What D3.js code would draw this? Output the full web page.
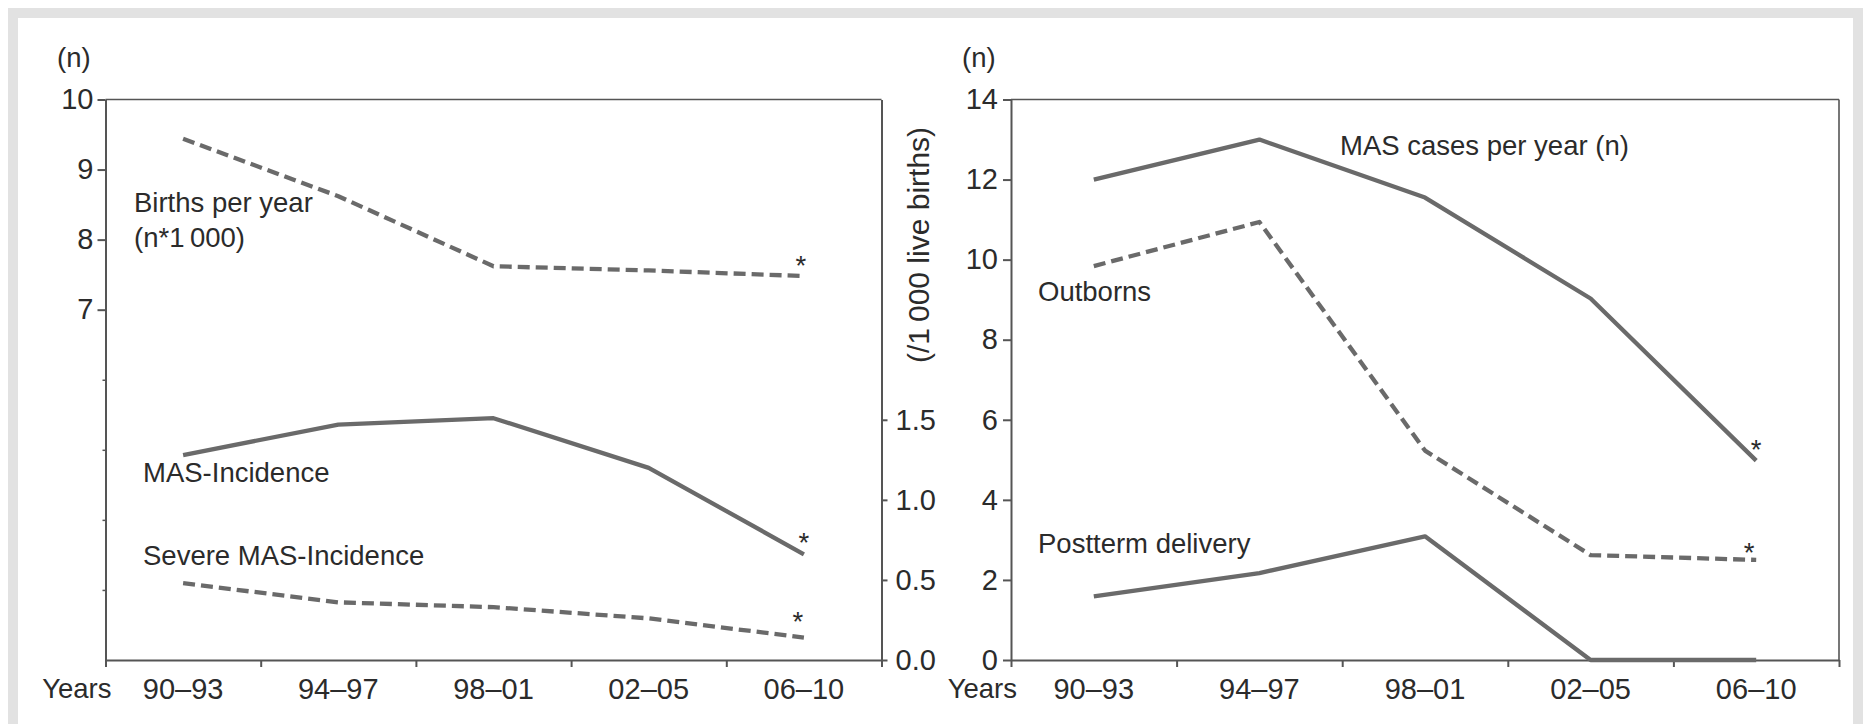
<!DOCTYPE html>
<html>
<head>
<meta charset="utf-8">
<script src="https://cdn.jsdelivr.net/npm/d3@7"></script>
<style>
  body { margin: 0; background: #fff; }
  svg { display: block; }
</style>
</head>
<body>
<svg id="chart" width="1863" height="724"></svg>
<script>
// data
const periods = ['90–93', '94–97', '98–01', '02–05', '06–10'];

// left panel
const birthsPerYear = [9.44, 8.62, 7.62, 7.56, 7.48];      // n*1000, left axis
const masIncidence = [1.28, 1.47, 1.51, 1.20, 0.66];        // /1000 live births, right axis
const severeMasIncidence = [0.48, 0.36, 0.33, 0.26, 0.14];
const birthsTicks = [7, 8, 9, 10];
const birthsMinorTicks = [3, 4, 5, 6];
const incidenceTicks = [0, 0.5, 1.0, 1.5];

// right panel
const masCases = [12, 13, 11.55, 9.03, 4.98];
const outborns = [9.84, 10.94, 5.23, 2.62, 2.5];
const postterm = [1.59, 2.17, 3.09, 0, 0];
const casesTicks = [0, 2, 4, 6, 8, 10, 12, 14];

const font = '"Liberation Sans", Arial, sans-serif';
const fontSize = 27.5;
const tickFontSize = 29;
const textColor = '#2b2b2b';
const axisColor = '#555';
const lineColor = '#6a6a6a';
const dash = '12,6';

const svg = d3.select('#chart');

// light grey frame round the figure
svg.append('rect')
   .attr('x', 13).attr('y', 13)
   .attr('width', 1845).attr('height', 800)
   .attr('fill', 'none')
   .attr('stroke', '#e2e2e2')
   .attr('stroke-width', 10);

const plotTop = 99.5, plotBottom = 660;

const styleAxis = (g, width) => {
  g.attr('font-family', font).attr('font-size', tickFontSize);
  g.selectAll('.domain, line').attr('stroke', axisColor).attr('stroke-width', width || 2);
  g.selectAll('text').attr('fill', textColor);
};

const addText = (x, y, txt, anchor) =>
  svg.append('text')
     .attr('x', x).attr('y', y)
     .attr('font-family', font).attr('font-size', fontSize)
     .attr('fill', textColor)
     .attr('text-anchor', anchor || 'start')
     .text(txt);

const drawXAxis = (x0, x1) => {
  const xBand = d3.scaleBand().domain(periods).range([x0, x1]);
  const xEdge = d3.scaleLinear().domain([0, periods.length]).range([x0, x1]);

  const ticks = svg.append('g')
     .attr('transform', `translate(0,${plotBottom})`)
     .call(d3.axisBottom(xEdge).tickValues(d3.range(periods.length + 1)).tickFormat('').tickSize(7).tickSizeOuter(0));
  styleAxis(ticks);

  const labels = svg.append('g')
     .attr('transform', `translate(0,${plotBottom})`)
     .call(d3.axisBottom(xBand).tickSize(0).tickPadding(18));
  labels.select('.domain').remove();
  styleAxis(labels);

  addText(x0 + 6, 698, 'Years', 'end');
  return xBand;
};

const drawSeries = (xBand, yScale, values, dashed) => {
  const line = d3.line()
                 .x((d, i) => xBand(periods[i]) + xBand.bandwidth() / 2)
                 .y(d => yScale(d));
  svg.append('path')
     .datum(values)
     .attr('fill', 'none')
     .attr('stroke', lineColor)
     .attr('stroke-width', 4.3)
     .attr('stroke-linejoin', 'round')
     .attr('stroke-dasharray', dashed ? dash : null)
     .attr('d', line);
};

const addStar = (xBand, yScale, values, dx, dy) => {
  const i = values.length - 1;
  const cx = xBand(periods[i]) + xBand.bandwidth() / 2 + dx;
  const cy = yScale(values[i]) + dy;
  svg.append('text')
     .attr('x', cx).attr('y', cy + 15.5)
     .attr('font-family', font).attr('font-size', fontSize)
     .attr('fill', textColor)
     .attr('text-anchor', 'middle')
     .text('*');
};

// ---------- left panel ----------
{
  const x0 = 105.5, x1 = 881.5;
  const yBirths = d3.scaleLinear().domain([2, 10]).range([plotBottom, plotTop]);
  const yInc = d3.scaleLinear().domain([0, 3.5]).range([plotBottom, plotTop]);

  svg.append('line')
     .attr('x1', x0).attr('x2', x1).attr('y1', plotTop).attr('y2', plotTop)
     .attr('stroke', axisColor).attr('stroke-width', 1.6);

  const xBand = drawXAxis(x0, x1);

  const minor = svg.append('g')
     .attr('transform', `translate(${x0},0)`)
     .call(d3.axisLeft(yBirths).tickValues(birthsMinorTicks).tickFormat('').tickSize(3).tickSizeOuter(0));
  minor.select('.domain').remove();
  styleAxis(minor, 1.5);

  const yl = svg.append('g')
     .attr('transform', `translate(${x0},0)`)
     .call(d3.axisLeft(yBirths).tickValues(birthsTicks).tickSize(8).tickPadding(4).tickSizeOuter(0));
  styleAxis(yl);

  const yr = svg.append('g')
     .attr('transform', `translate(${x1},0)`)
     .call(d3.axisRight(yInc).tickValues(incidenceTicks).tickFormat(d3.format('.1f')).tickSize(6).tickPadding(8).tickSizeOuter(0));
  styleAxis(yr);

  addText(57, 67, '(n)');
  svg.append('text')
     .attr('transform', 'translate(918,245) rotate(-90)')
     .attr('dy', '0.35em')
     .attr('font-family', font).attr('font-size', 30)
     .attr('fill', textColor)
     .attr('text-anchor', 'middle')
     .text('(/1\u2009000 live births)');

  drawSeries(xBand, yBirths, birthsPerYear, true);
  drawSeries(xBand, yInc, masIncidence, false);
  drawSeries(xBand, yInc, severeMasIncidence, true);

  addText(134, 212, 'Births per year');
  addText(134, 247, '(n*1\u2009000)');
  addText(143, 482, 'MAS-Incidence');
  addText(143, 565, 'Severe MAS-Incidence');

  addStar(xBand, yBirths, birthsPerYear, -3, -17);
  addStar(xBand, yInc, masIncidence, 0, -18);
  addStar(xBand, yInc, severeMasIncidence, -6, -22);
}

// ---------- right panel ----------
{
  const x0 = 1011, x1 = 1839;
  const yCases = d3.scaleLinear().domain([0, 14]).range([plotBottom, plotTop]);

  svg.append('line')
     .attr('x1', x0).attr('x2', x1).attr('y1', plotTop).attr('y2', plotTop)
     .attr('stroke', axisColor).attr('stroke-width', 1.6);
  svg.append('line')
     .attr('x1', x1).attr('x2', x1).attr('y1', plotTop).attr('y2', plotBottom)
     .attr('stroke', axisColor).attr('stroke-width', 1.6);

  const xBand = drawXAxis(x0, x1);

  const yl = svg.append('g')
     .attr('transform', `translate(${x0},0)`)
     .call(d3.axisLeft(yCases).tickValues(casesTicks).tickSize(8).tickPadding(5).tickSizeOuter(0));
  styleAxis(yl);

  addText(962, 67, '(n)');

  drawSeries(xBand, yCases, masCases, false);
  drawSeries(xBand, yCases, outborns, true);
  drawSeries(xBand, yCases, postterm, false);

  addText(1340, 155, 'MAS cases per year (n)');
  addText(1038, 301, 'Outborns');
  addText(1038, 553, 'Postterm delivery');

  addStar(xBand, yCases, masCases, 0, -17);
  addStar(xBand, yCases, outborns, -7, -13);
}
</script>
</body>
</html>
